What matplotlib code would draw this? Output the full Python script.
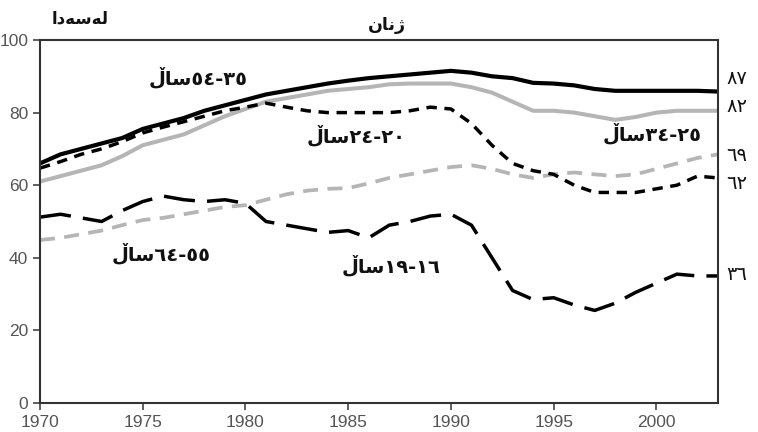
import matplotlib
matplotlib.use("Agg")
import matplotlib.pyplot as plt

years = list(range(1970, 2004))

age_35_54 = [66, 68.5, 70, 71.5, 73, 75.5, 77, 78.5, 80.5, 82, 83.5, 85, 86, 87, 88, 88.8,
             89.5, 90, 90.5, 91, 91.5, 91, 90, 89.5, 88.2, 88, 87.5, 86.5, 86, 86, 86, 86, 86, 85.8]
age_25_34 = [61, 62.5, 64, 65.5, 68, 71, 72.5, 74, 76.5, 79, 81, 83, 84, 85, 86, 86.5,
             87, 87.8, 88, 88, 88, 87, 85.5, 83, 80.5, 80.5, 80, 79, 78, 78.8, 80, 80.5, 80.5, 80.5]
age_20_24 = [64.7, 66.5, 68.5, 70, 72, 74.4, 76, 77.5, 79, 80.5, 81.5, 82.6, 81.5, 80.5, 80, 80,
             80, 80, 80.5, 81.5, 81, 77, 71, 66, 64, 63, 60, 58, 58, 58, 59, 60, 62.5, 62]
age_55_64 = [44.9, 45.5, 46.5, 47.5, 49, 50.4, 51, 52, 53, 54, 54.5, 56, 57.5, 58.5, 59, 59.2,
             60.5, 62, 63, 64, 65, 65.5, 64.5, 63, 62, 63, 63.5, 63, 62.5, 63, 64.5, 66, 67.5, 68.5]
age_16_19 = [51.2, 52, 51, 50, 53, 55.5, 57, 56, 55.5, 56, 55, 50, 49, 48, 47, 47.5,
             45.5, 49, 50, 51.5, 52, 49, 40, 31, 28.5, 29, 27, 25.5, 27.5, 30.5, 33, 35.5, 35, 35]

end_labels = ["\u0668\u0667", "\u0668\u0662", "\u0666\u0669", "\u0666\u0662", "\u0663\u0666"]
end_values = [87, 82, 69, 62, 36]
end_label_pos = [89.5, 81.8, 68.3, 60.6, 35.3]

SAL = "\u06B5\uFE8E\uFEB3"
series_labels = {
    "35-54": SAL + "\u0665\u0664-\u0663\u0665",
    "25-34": SAL + "\u0663\u0664-\u0662\u0665",
    "20-24": SAL + "\u0662\u0664-\u0662\u0660",
    "55-64": SAL + "\u0666\u0664-\u0665\u0665",
    "16-19": SAL + "\u0661\u0669-\u0661\u0666",
}
ylabel_text = "\u0627\u062F\uFEEA\uFEB3\uFEEA\uFEDF"
title_text = "\uFEE5\uFE8E\uFEE7\u0698"

fig = plt.figure(figsize=(7.58, 4.32), dpi=100)
ax = fig.add_axes([40/758, 29/432, 678/758, 363/432])

ax.plot(years, age_55_64, color="#b5b5b5", lw=2.7, dashes=(4, 2.5))
ax.plot(years, age_25_34, color="#b5b5b5", lw=2.9, solid_capstyle="butt")
ax.plot(years, age_20_24, color="black", lw=2.5, dashes=(3, 2.2))
ax.plot(years, age_16_19, color="black", lw=2.5, dashes=(9, 3.5))
ax.plot(years, age_35_54, color="black", lw=3.0)

ax.set_xlim(1970, 2003)
ax.set_ylim(0, 100)
ax.set_xticks([1970, 1975, 1980, 1985, 1990, 1995, 2000])
ax.set_yticks([0, 20, 40, 60, 80, 100])
for s in ax.spines.values():
    s.set_linewidth(1.5)
    s.set_color("#333333")
ax.tick_params(axis="both", direction="out", length=5, width=1.2, color="#444444",
               labelcolor="#555555", labelsize=12.5)
for lab in ax.get_xticklabels() + ax.get_yticklabels():
    lab.set_family("Liberation Sans")

afont = dict(family="DejaVu Sans", fontweight="bold", fontsize=14, color="#111111")
ax.text(1977.7, 89.6, series_labels["35-54"], ha="center", va="center", **afont)
ax.text(1985.4, 73.8, series_labels["20-24"], ha="center", va="center", **afont)
ax.text(1999.8, 74.4, series_labels["25-34"], ha="center", va="center", **afont)
ax.text(1975.9, 41.3, series_labels["55-64"], ha="center", va="center", **afont)
ax.text(1987.1, 38.0, series_labels["16-19"], ha="center", va="center", **afont)

for lab, v in zip(end_labels, end_label_pos):
    ax.text(2003.4, v, lab, ha="left", va="center", family="DejaVu Sans",
            fontsize=14, color="#111111", clip_on=False)

fig.text(80/758, 1 - 18/432, ylabel_text, ha="center", va="center",
         family="DejaVu Sans", fontweight="bold", fontsize=12, color="#111111")
fig.text(387/758, 1 - 25/432, title_text, ha="center", va="center",
         family="DejaVu Sans", fontweight="bold", fontsize=12.5, color="#111111")

fig.savefig("out.png", dpi=100, facecolor="white")
